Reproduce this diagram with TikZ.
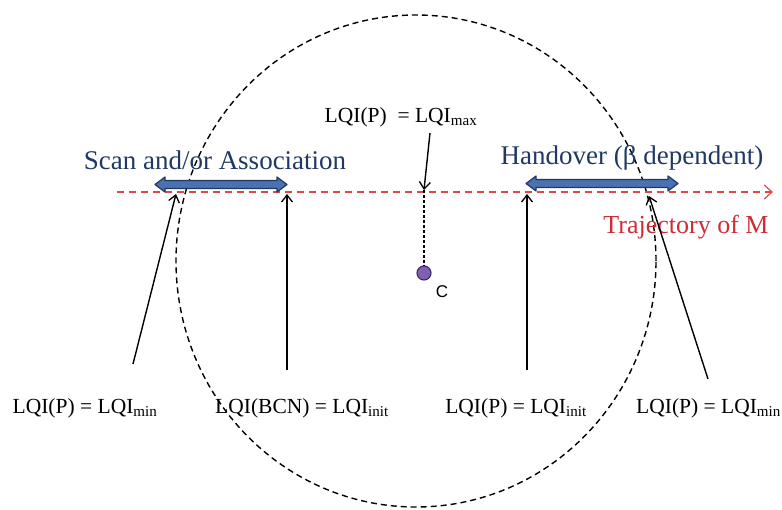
\documentclass[tikz,border=0pt]{standalone}
\usepackage{fontspec}
\setmainfont{Liberation Serif}
\setsansfont{Liberation Sans}
\usetikzlibrary{arrows.meta}
\definecolor{headblue}{RGB}{31,56,100}
\definecolor{arrfill}{RGB}{74,114,176}
\definecolor{arrline}{RGB}{31,56,100}
\definecolor{trajred}{RGB}{222,72,72}
\definecolor{txtred}{RGB}{205,45,55}
\definecolor{dotfill}{RGB}{128,96,176}
\definecolor{dotline}{RGB}{60,40,100}
\tikzset{
  head/.style={font=\fontsize{27}{30}\selectfont, text=headblue, inner sep=0pt},
  trajtxt/.style={font=\fontsize{26}{29}\selectfont, text=txtred, inner sep=0pt},
  lbl/.style={font=\fontsize{21.5}{24}\selectfont, text=black, inner sep=0pt},
  pointer/.style={line width=1.4pt, draw=black, -{Straight Barb[length=7pt,width=11pt,line width=1.3pt]}},
  blockarrow/.style={draw=arrline, fill=arrfill, line width=1.2pt, line join=round},
  cellborder/.style={dash pattern=on 6pt off 4pt, line width=1.4pt},
  trajline/.style={draw=trajred, line width=1.2pt, dash pattern=on 7pt off 5pt,
    -{Straight Barb[length=8pt,width=14pt,line width=1.2pt]}},
}
\begin{document}
\begin{tikzpicture}[x=1pt,y=-1pt]
\useasboundingbox (0,0) rectangle (782,509);
% cell boundary
\draw[cellborder] (416,261) ellipse [x radius=240pt, y radius=246pt];
% trajectory
\coordinate (tstart) at (117,192);
\coordinate (tend) at (773,192);
\draw[trajline] (tstart) -- (tend);
% block arrows
\draw[blockarrow] (155,184.5) -- (165,177) -- (165,180.5) -- (277,180.5) -- (277,177)
  -- (287,184.5) -- (277,192) -- (277,188.5) -- (165,188.5) -- (165,192) -- cycle;
\draw[blockarrow] (526,183.5) -- (536,176) -- (536,179.5) -- (668,179.5) -- (668,176)
  -- (678,183.5) -- (668,191) -- (668,187.5) -- (536,187.5) -- (536,191) -- cycle;
% texts
\node[head] (scan) at (215,160) {Scan and/or Association};
\node[head] (hand) at (632,158) {Handover (β dependent)};
\node[trajtxt] (traj) at (686,227) {Trajectory of M};
\node[lbl] (lmax) at (401,117) {LQI(P)\ \ = LQI\textsubscript{max}};
\node[lbl, anchor=base] (l1) at (85,413) {LQI(P) = LQI\textsubscript{min}};
\node[lbl, anchor=base] (l2) at (302,413) {LQI(BCN) = LQI\textsubscript{init}};
\node[lbl, anchor=base] (l3) at (516,413) {LQI(P) = LQI\textsubscript{init}};
\node[lbl, anchor=base west] (l4) at (636,413) {LQI(P) = LQI\textsubscript{min}};
% centre
\node[circle, draw=dotline, fill=dotfill, line width=1.1pt, minimum size=14pt, inner sep=0pt] (c) at (424,273) {};
\node[font=\sffamily\fontsize{17}{20}\selectfont, inner sep=0pt] (clbl) at (442,292) {C};
% pointer arrows
\coordinate (p1s) at (133,364); \coordinate (p1e) at (176,194);
\coordinate (p2s) at (287,370); \coordinate (p2e) at (287,194);
\coordinate (p3s) at (527,370); \coordinate (p3e) at (527,194);
\coordinate (p4s) at (708,379); \coordinate (p4e) at (649,196);
\coordinate (pms) at (430,133); \coordinate (pme) at (424,190);
\draw[pointer] (p1s) -- (p1e);
\draw[pointer] (p2s) -- (p2e);
\draw[pointer] (p3s) -- (p3e);
\draw[pointer] (p4s) -- (p4e);
\draw[pointer] (pms) -- (pme);
\draw[line width=1.2pt, dash pattern=on 3pt off 2pt] (pme) -- (c.north);
\end{tikzpicture}
\end{document}
